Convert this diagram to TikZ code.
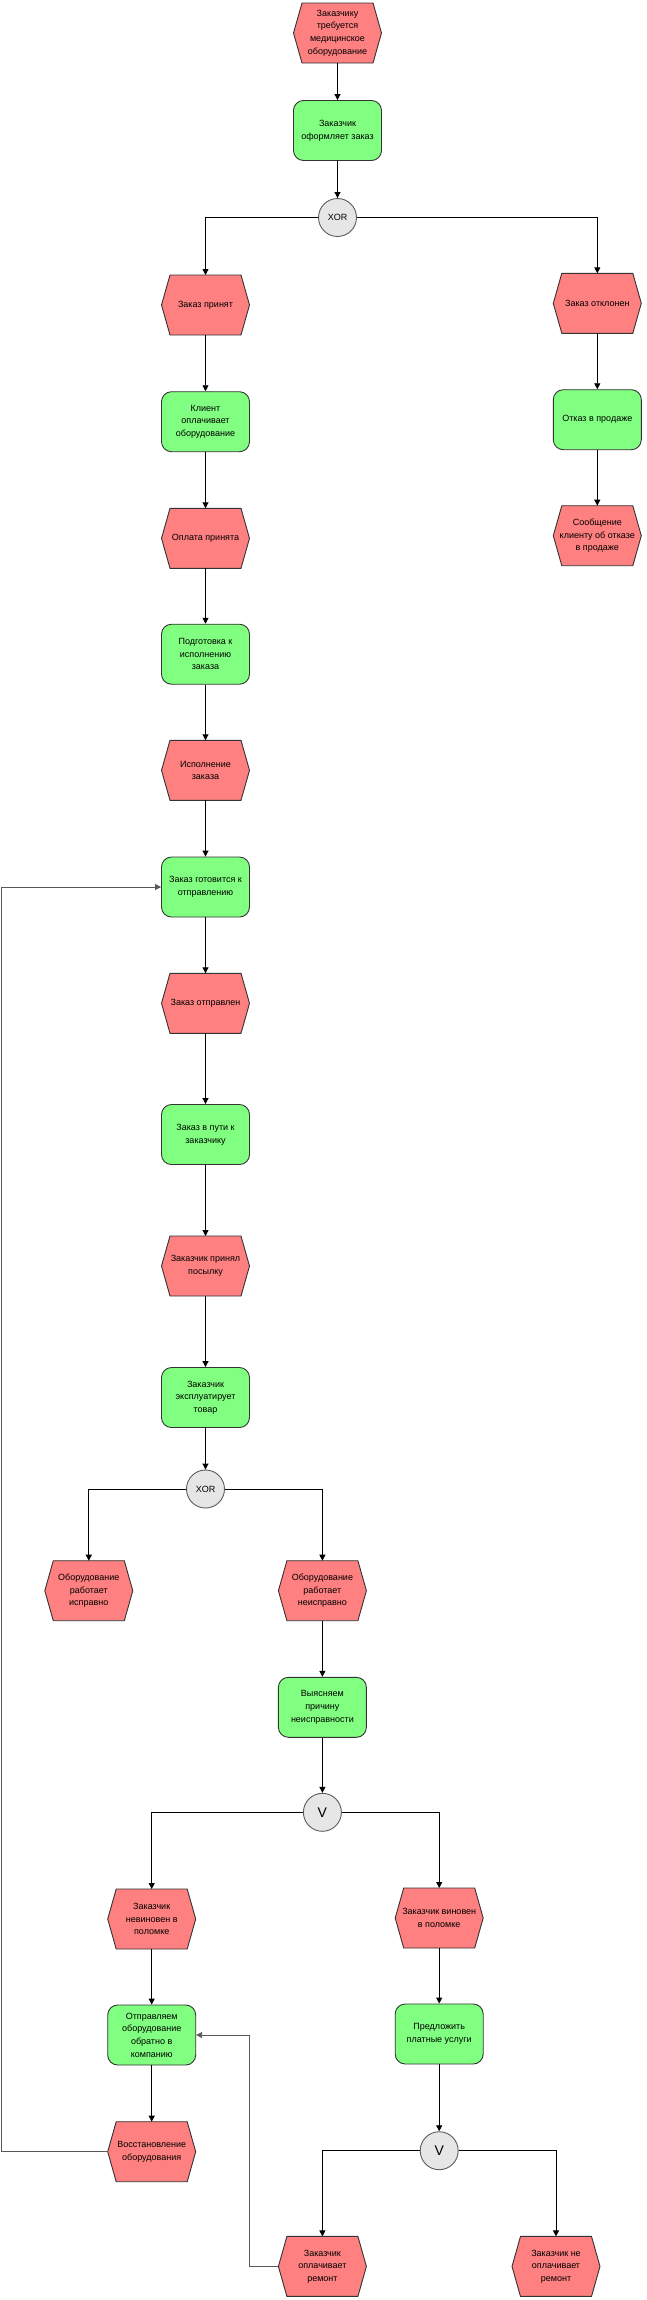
\documentclass[tikz,border=0pt]{standalone}
\usepackage{fontspec}
\setmainfont{Liberation Sans}
\usetikzlibrary{arrows.meta}
\definecolor{evred}{HTML}{FF8080}
\definecolor{fngreen}{HTML}{80FF80}
\definecolor{gategray}{HTML}{E6E6E6}
\definecolor{edgecol}{HTML}{333333}
\newdimen\hxa \newdimen\hxb \newdimen\hya \newdimen\hyb
\newdimen\hym \newdimen\hxi \newdimen\hxo
\makeatletter
\pgfdeclareshape{hexevent}{
  \inheritsavedanchors[from=rectangle]
  \inheritanchorborder[from=rectangle]
  \inheritanchor[from=rectangle]{center}
  \inheritanchor[from=rectangle]{north}
  \inheritanchor[from=rectangle]{south}
  \inheritanchor[from=rectangle]{east}
  \inheritanchor[from=rectangle]{west}
  \inheritanchor[from=rectangle]{north east}
  \inheritanchor[from=rectangle]{north west}
  \inheritanchor[from=rectangle]{south east}
  \inheritanchor[from=rectangle]{south west}
  \inheritanchor[from=rectangle]{mid}
  \inheritanchor[from=rectangle]{base}
  \backgroundpath{
    \southwest \hxa=\pgf@x \hya=\pgf@y
    \northeast \hxb=\pgf@x \hyb=\pgf@y
    \hym=\hya \advance\hym by \hyb \divide\hym by 2
    \hxi=\hxa \advance\hxi by 8.5pt
    \hxo=\hxb \advance\hxo by -8.5pt
    \pgfpathmoveto{\pgfqpoint{\hxa}{\hym}}
    \pgfpathlineto{\pgfqpoint{\hxi}{\hyb}}
    \pgfpathlineto{\pgfqpoint{\hxo}{\hyb}}
    \pgfpathlineto{\pgfqpoint{\hxb}{\hym}}
    \pgfpathlineto{\pgfqpoint{\hxo}{\hya}}
    \pgfpathlineto{\pgfqpoint{\hxi}{\hya}}
    \pgfpathclose
  }
}
\makeatother
\begin{document}
\begin{tikzpicture}[x=1pt,y=-1pt,
  every node/.style={font=\fontsize{9}{12.6}\selectfont, align=center, inner sep=0pt},
  evt/.style={hexevent, outer sep=0pt, minimum width=88pt, minimum height=60pt,
    fill=evred, draw=edgecol, line width=0.9pt},
  fn/.style={rectangle, rounded corners=10pt, minimum width=88pt, minimum height=60pt,
    fill=fngreen, draw=edgecol, line width=0.9pt},
  gate/.style={circle, minimum size=38pt, fill=gategray, draw=edgecol!80, line width=0.9pt},
  vlabel/.style={font=\fontsize{14}{16}\selectfont},
  arr/.style={-{Triangle[length=6pt,width=6pt]}, line width=0.9pt, draw=black},
  looparr/.style={arr, draw=black!65}]
\useasboundingbox (0,0) rectangle (647,2300);

% top column
\node[evt] (e1) at (337.5,33) {Заказчику\\требуется\\медицинское\\оборудование};
\node[fn]  (f1) at (337.5,130.5) {Заказчик\\оформляет заказ};
\node[gate] (x1) at (337.5,217.5) {XOR};

% right column
\node[evt] (e3) at (597.3,303.3) {Заказ отклонен};
\node[fn]  (f3) at (597.3,419.7) {Отказ в продаже};
\node[evt] (e5) at (597.3,535.7) {Сообщение\\клиенту об отказе\\в продаже};

% main column
\node[evt] (e2) at (205.5,305) {Заказ принят};
\node[fn]  (f2) at (205.5,421.7) {Клиент\\оплачивает\\оборудование};
\node[evt] (e4) at (205.5,538.3) {Оплата принята};
\node[fn]  (f4) at (205.5,654.2) {Подготовка к\\исполнению\\заказа};
\node[evt] (e6) at (205.5,770.3) {Исполнение\\заказа};
\node[fn]  (f5) at (205.5,887) {Заказ готовится к\\отправлению};
\node[evt] (e7) at (205.5,1003.3) {Заказ отправлен};
\node[fn]  (f6) at (205.5,1134.5) {Заказ в пути к\\заказчику};
\node[evt] (e8) at (205.5,1266) {Заказчик принял\\посылку};
\node[fn]  (f7) at (205.5,1397.5) {Заказчик\\эксплуатирует\\товар};
\node[gate] (x2) at (205.5,1489) {XOR};

\node[evt] (e9)  at (88.8,1590.7) {Оборудование\\работает\\исправно};
\node[evt] (e10) at (322.4,1590.7) {Оборудование\\работает\\неисправно};
\node[fn]  (f8)  at (322.4,1707.3) {Выясняем\\причину\\неисправности};
\node[gate, vlabel] (v1) at (322.4,1812.3) {V};

\node[evt] (e11) at (151.7,1919) {Заказчик\\невиновен в\\поломке};
\node[evt] (e12) at (439.2,1918) {Заказчик виновен\\в поломке};
\node[fn]  (f9)  at (151.7,2035) {Отправляем\\оборудование\\обратно в\\компанию};
\node[fn]  (f10) at (439.2,2034) {Предложить\\платные услуги};
\node[evt] (e13) at (151.7,2151.7) {Восстановление\\оборудования};
\node[gate, vlabel] (v2) at (439.2,2150.7) {V};

\node[evt] (e14) at (322.4,2266.4) {Заказчик\\оплачивает\\ремонт};
\node[evt] (e15) at (556,2266.4) {Заказчик не\\оплачивает\\ремонт};

\coordinate (lpA) at (1.5,1500);
\coordinate (lpB) at (249.5,2150);

% connectors
\draw[arr] (e1) -- (f1);
\draw[arr] (f1) -- (x1);
\draw[arr] (x1.west) -| (e2.north);
\draw[arr] (x1.east) -| (e3.north);
\draw[arr] (e3) -- (f3);
\draw[arr] (f3) -- (e5);
\draw[arr] (e2) -- (f2);
\draw[arr] (f2) -- (e4);
\draw[arr] (e4) -- (f4);
\draw[arr] (f4) -- (e6);
\draw[arr] (e6) -- (f5);
\draw[arr] (f5) -- (e7);
\draw[arr] (e7) -- (f6);
\draw[arr] (f6) -- (e8);
\draw[arr] (e8) -- (f7);
\draw[arr] (f7) -- (x2);
\draw[arr] (x2.west) -| (e9.north);
\draw[arr] (x2.east) -| (e10.north);
\draw[arr] (e10) -- (f8);
\draw[arr] (f8) -- (v1);
\draw[arr] (v1.west) -| (e11.north);
\draw[arr] (v1.east) -| (e12.north);
\draw[arr] (e11) -- (f9);
\draw[arr] (e12) -- (f10);
\draw[arr] (f9) -- (e13);
\draw[arr] (f10) -- (v2);
\draw[arr] (v2.west) -| (e14.north);
\draw[arr] (v2.east) -| (e15.north);
\draw[looparr] (e13.west) -| (lpA) |- (f5.west);
\draw[looparr] (e14.west) -| (lpB) |- (f9.east);
\end{tikzpicture}
\end{document}
